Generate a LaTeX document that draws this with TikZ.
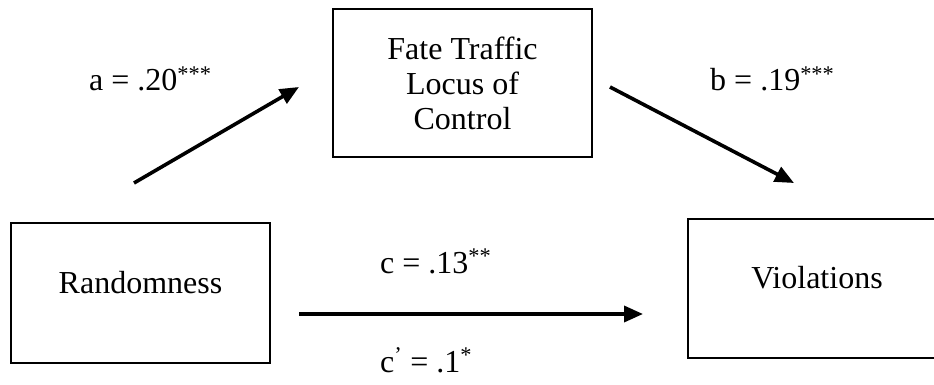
\documentclass[tikz,border=0pt]{standalone}
\usepackage{fontspec}
\setmainfont{Liberation Serif}
\usetikzlibrary{arrows.meta, positioning}

\begin{document}
\begin{tikzpicture}[
  x=1pt, y=-1pt,
  font=\fontsize{32}{35}\selectfont,
  var/.style={
    rectangle, draw, line width=2pt, inner sep=0pt,
    minimum width=259pt, minimum height=140pt,
    text centered, align=center, text height=20pt, text depth=20pt
  },
  coef/.style={anchor=base west, inner sep=0pt},
  arr/.style={-{Triangle[length=19pt, width=16pt]}, line width=3.6pt}
]
\useasboundingbox (0,0) rectangle (934,385);

\node[var] (rand) at (140.5,293) {Randomness};
\node[var, minimum height=148pt, text height=, text depth=] (fate) at (462.5,83) {Fate Traffic\\Locus of\\Control};
\node[var, minimum width=258pt, minimum height=139pt] (viol) at (817,288.5) {Violations};

\coordinate (aS) at (134,183);
\coordinate (aE) at (299,87);
\coordinate (bS) at (610,87);
\coordinate (bE) at (794,183);
\coordinate (cS) at (299,314);
\coordinate (cE) at (643,314);

\draw[arr] (aS) -- (aE);
\draw[arr] (bS) -- (bE);
\draw[arr] (cS) -- (cE);

\node[coef] (la) at (89,91) {a = .20\textsuperscript{***}};
\node[coef] (lb) at (710,91) {b = .19\textsuperscript{***}};
\node[coef] (lc) at (380,273) {c = .13\textsuperscript{**}};
\node[coef] (lcp) at (380,372) {c\textsuperscript{'} = .1\textsuperscript{*}};

\end{tikzpicture}
\end{document}
